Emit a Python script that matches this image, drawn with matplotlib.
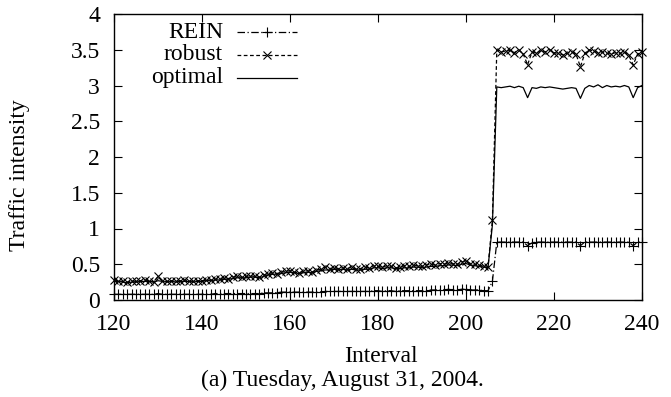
import matplotlib
matplotlib.use("Agg")
import matplotlib.pyplot as plt
from matplotlib.lines import Line2D
import numpy as np

plt.rcParams['font.family'] = ['Liberation Serif', 'DejaVu Serif']

intervals = list(range(120, 241))

robust = [
    0.28, 0.27, 0.26, 0.25, 0.27, 0.26, 0.27, 0.28, 0.27, 0.25,
    0.33, 0.27, 0.26, 0.27, 0.26, 0.27, 0.28, 0.27, 0.26, 0.27,
    0.27, 0.28, 0.28, 0.29, 0.30, 0.31, 0.30, 0.32, 0.33, 0.32,
    0.33, 0.34, 0.33, 0.32, 0.35, 0.37, 0.38, 0.37, 0.39, 0.40,
    0.41, 0.39, 0.38, 0.40, 0.41, 0.39, 0.42, 0.43, 0.46, 0.44,
    0.45, 0.44, 0.45, 0.44, 0.46, 0.43, 0.44, 0.46, 0.45, 0.48,
    0.47, 0.46, 0.48, 0.47, 0.45, 0.46, 0.48, 0.47, 0.49, 0.48,
    0.47, 0.49, 0.50, 0.49, 0.51, 0.50, 0.52, 0.51, 0.50, 0.53,
    0.55, 0.51, 0.50, 0.49, 0.47, 0.46,
    1.12,
    3.50, 3.47, 3.48, 3.49, 3.46, 3.50, 3.44, 3.29, 3.47, 3.45,
    3.49, 3.47, 3.50, 3.46, 3.45, 3.43, 3.45, 3.47, 3.44, 3.26,
    3.45, 3.50, 3.48, 3.46, 3.47, 3.45, 3.44, 3.46, 3.45, 3.47,
    3.42, 3.29, 3.44, 3.47,
]

optimal = [
    0.26, 0.26, 0.25, 0.24, 0.25, 0.25, 0.26, 0.26, 0.26, 0.25,
    0.27, 0.26, 0.25, 0.26, 0.25, 0.26, 0.26, 0.26, 0.25, 0.26,
    0.26, 0.27, 0.27, 0.28, 0.28, 0.29, 0.29, 0.30, 0.31, 0.31,
    0.31, 0.32, 0.32, 0.31, 0.33, 0.35, 0.36, 0.36, 0.37, 0.38,
    0.39, 0.38, 0.37, 0.38, 0.39, 0.38, 0.40, 0.41, 0.42, 0.42,
    0.43, 0.42, 0.43, 0.42, 0.43, 0.42, 0.42, 0.43, 0.43, 0.45,
    0.45, 0.44, 0.45, 0.45, 0.44, 0.44, 0.45, 0.45, 0.46, 0.46,
    0.45, 0.46, 0.47, 0.47, 0.48, 0.48, 0.49, 0.49, 0.48, 0.50,
    0.51, 0.49, 0.48, 0.47, 0.46, 0.45,
    1.05,
    2.98, 2.97, 2.98, 2.99, 2.97, 2.99, 2.97, 2.83, 2.97, 2.96,
    2.98, 2.97, 2.98, 2.97, 2.96, 2.95, 2.96, 2.97, 2.96, 2.82,
    2.96, 3.00, 2.98, 3.01, 2.97, 3.00, 2.98, 2.99, 2.98, 3.00,
    2.98, 2.83, 2.97, 3.00,
]

rein = [
    0.08, 0.08, 0.08, 0.08, 0.08, 0.08, 0.08, 0.08, 0.08, 0.08,
    0.09, 0.08, 0.08, 0.08, 0.08, 0.08, 0.08, 0.08, 0.08, 0.08,
    0.08, 0.08, 0.08, 0.09, 0.09, 0.09, 0.09, 0.09, 0.09, 0.09,
    0.09, 0.09, 0.09, 0.09, 0.10, 0.10, 0.10, 0.10, 0.11, 0.11,
    0.11, 0.11, 0.11, 0.11, 0.11, 0.11, 0.11, 0.11, 0.12, 0.12,
    0.12, 0.12, 0.12, 0.12, 0.12, 0.12, 0.12, 0.12, 0.12, 0.13,
    0.13, 0.12, 0.13, 0.13, 0.12, 0.13, 0.13, 0.13, 0.13, 0.13,
    0.13, 0.13, 0.14, 0.14, 0.14, 0.14, 0.15, 0.14, 0.14, 0.15,
    0.15, 0.14, 0.14, 0.14, 0.13, 0.13,
    0.26,
    0.81, 0.81, 0.81, 0.81, 0.81, 0.81, 0.81, 0.76, 0.80, 0.81,
    0.81, 0.81, 0.81, 0.81, 0.81, 0.81, 0.81, 0.81, 0.81, 0.76,
    0.81, 0.81, 0.81, 0.81, 0.81, 0.81, 0.81, 0.81, 0.81, 0.81,
    0.81, 0.76, 0.81, 0.81,
]

xticks = [120, 140, 160, 180, 200, 220, 240]
yticks = [0, 0.5, 1, 1.5, 2, 2.5, 3, 3.5, 4]
ytick_labels = ["0", "0.5", "1", "1.5", "2", "2.5", "3", "3.5", "4"]

FS = 17
W, H = 671, 397
fig = plt.figure(figsize=(W / 100, H / 100), dpi=100)
ax = fig.add_axes([114 / W, 1 - 300 / H, (642 - 114) / W, (300 - 14) / H])

lw = 0.9
ax.plot(intervals, rein, color='black', lw=lw, linestyle=(0, (6, 2, 1, 2)),
        marker='+', markersize=6.5, markeredgewidth=0.8, clip_on=False)
ax.plot(intervals, robust, color='black', lw=lw, linestyle=(0, (3, 2)),
        marker='x', markersize=6, markeredgewidth=0.8, clip_on=False)
ax.plot(intervals, optimal, color='black', lw=lw, linestyle='-', clip_on=False)

ax.set_xlim(120, 240)
ax.set_ylim(0, 4)
ax.set_xticks(xticks)
ax.set_yticks(yticks)
ax.set_yticklabels(ytick_labels)
ax.tick_params(direction='in', length=6, width=0.8, top=True, right=True,
               labelsize=FS)
ax.tick_params(axis='x', pad=10)
ax.tick_params(axis='y', pad=10)
for s in ax.spines.values():
    s.set_linewidth(1.0)

fig.text(20 / W, 1 - 175 / H, "Traffic intensity", rotation=90, ha='center',
         va='center', fontsize=FS)
fig.text(381 / W, 1 - 357 / H, "Interval", ha='center', va='center', fontsize=FS)
fig.text(342 / W, 1 - 380 / H, "(a) Tuesday, August 31, 2004.", ha='center',
         va='center', fontsize=FS)

# manual legend, gnuplot style (text right-aligned, sample on the right)
leg_items = [
    ("REIN", dict(linestyle=(0, (6, 2, 1, 2)), marker='+', markersize=6.5)),
    ("robust", dict(linestyle=(0, (3, 2)), marker='x', markersize=6)),
    ("optimal", dict(linestyle='-', marker=None)),
]
rows_y = [32, 55, 78]
x_text = 223
x0, x1 = 237, 297
for (lab, st), yp in zip(leg_items, rows_y):
    yf = 1 - yp / H
    fig.text(x_text / W, yf, lab, ha='right', va='center', fontsize=FS)
    fig.add_artist(Line2D([x0 / W, x1 / W], [yf, yf], color='black', lw=lw,
                          linestyle=st['linestyle'], transform=fig.transFigure))
    if st['marker']:
        fig.add_artist(Line2D([(x0 + x1) / 2 / W], [yf], color='black',
                              marker=st['marker'], markersize=st['markersize'],
                              markeredgewidth=0.8, linestyle='none',
                              transform=fig.transFigure))

fig.savefig("out.png", dpi=100)
